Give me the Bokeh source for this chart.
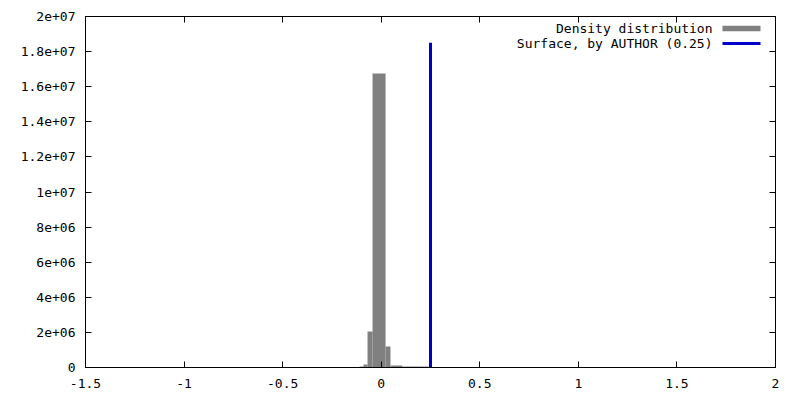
from bokeh.plotting import figure
from bokeh.models import (ColumnDataSource, FixedTicker, LinearAxis, Range1d,
                          Label, BoxAnnotation)
from bokeh.embed import file_html
from bokeh.resources import INLINE

# ---- data ----
bin_left = [-0.110, -0.090, -0.0695, -0.044, 0.022, 0.047, 0.107]
bin_right = [-0.090, -0.0695, -0.044, 0.022, 0.047, 0.107, 0.24]
bin_count = [6e4, 1.7e5, 2.05e6, 1.675e7, 1.2e6, 1.1e5, 6e4]

surface_x = [0.25]
surface_bottom = [0]
surface_top = [1.85e7]

x_ticks = [-1.5, -1, -0.5, 0, 0.5, 1, 1.5, 2]
x_tick_labels = ["-1.5", "-1", "-0.5", "0", "0.5", "1", "1.5", "2"]
y_ticks = [0, 2e6, 4e6, 6e6, 8e6, 1e7, 1.2e7, 1.4e7, 1.6e7, 1.8e7, 2e7]
y_tick_labels = ["0", "2e+06", "4e+06", "6e+06", "8e+06", "1e+07",
                 "1.2e+07", "1.4e+07", "1.6e+07", "1.8e+07", "2e+07"]

legend_labels = ["Density distribution", "Surface, by AUTHOR (0.25)"]

FONT = "DejaVu Sans Mono"
FSIZE = "13px"
GREY = "#808080"
BLUE = "#0000c8"

p = figure(width=792, height=392, output_backend="svg", toolbar_location=None,
           x_range=Range1d(-1.5, 2), y_range=Range1d(0, 2e7),
           min_border_left=85, min_border_right=17, min_border_top=16,
           min_border_bottom=25)
p.xgrid.visible = False
p.ygrid.visible = False
p.outline_line_color = "black"
p.outline_line_width = 1
p.background_fill_color = "white"
p.border_fill_color = "white"

src = ColumnDataSource(dict(left=bin_left, right=bin_right, top=bin_count,
                            bottom=[0] * len(bin_count)))
p.quad(left="left", right="right", top="top", bottom="bottom", source=src,
       fill_color=GREY, line_color=None)

p.segment(x0=surface_x, y0=surface_bottom, x1=surface_x, y1=surface_top,
          line_color=BLUE, line_width=3)

def style_axis(ax, ticks, labels):
    ax.ticker = FixedTicker(ticks=ticks)
    ax.major_tick_in = 6
    ax.major_tick_out = 0
    ax.minor_tick_line_color = None
    ax.axis_line_color = "black"
    ax.major_tick_line_color = "black"
    ax.major_label_text_font = FONT
    ax.major_label_text_font_size = FSIZE
    ax.major_label_text_color = "black"
    ax.major_label_overrides = {t: l for t, l in zip(ticks, labels)}

style_axis(p.xaxis[0], x_ticks, x_tick_labels)
p.xaxis[0].major_label_standoff = 11
style_axis(p.yaxis[0], y_ticks, y_tick_labels)
p.yaxis[0].major_label_standoff = 10

# mirrored ticks (top and right), no labels
top_ax = LinearAxis()
style_axis(top_ax, x_ticks, [""] * len(x_ticks))
top_ax.major_label_standoff = 0
p.add_layout(top_ax, "above")
right_ax = LinearAxis()
style_axis(right_ax, y_ticks, [""] * len(y_ticks))
right_ax.major_label_standoff = 0
p.add_layout(right_ax, "right")

# gnuplot-style legend: text right-aligned, sample to its right
text_x = 1.6805
sample_l, sample_r = 1.731, 1.924
row_y = [1.9316e7, 1.846e7]
for lbl, yy in zip(legend_labels, row_y):
    p.add_layout(Label(x=text_x, y=yy, text=lbl, text_align="right",
                       text_baseline="middle", text_font=FONT,
                       text_font_size=FSIZE, text_color="black"))
p.add_layout(BoxAnnotation(left=sample_l, right=sample_r,
                           bottom=row_y[0] - 1.6e5, top=row_y[0] + 1.6e5,
                           fill_color=GREY, fill_alpha=1, line_color=None))
p.add_layout(BoxAnnotation(left=sample_l, right=sample_r,
                           bottom=row_y[1] - 8e4, top=row_y[1] + 8e4,
                           fill_color=BLUE, fill_alpha=1, line_color=None))

open("out.html", "w").write(file_html(p, INLINE))
